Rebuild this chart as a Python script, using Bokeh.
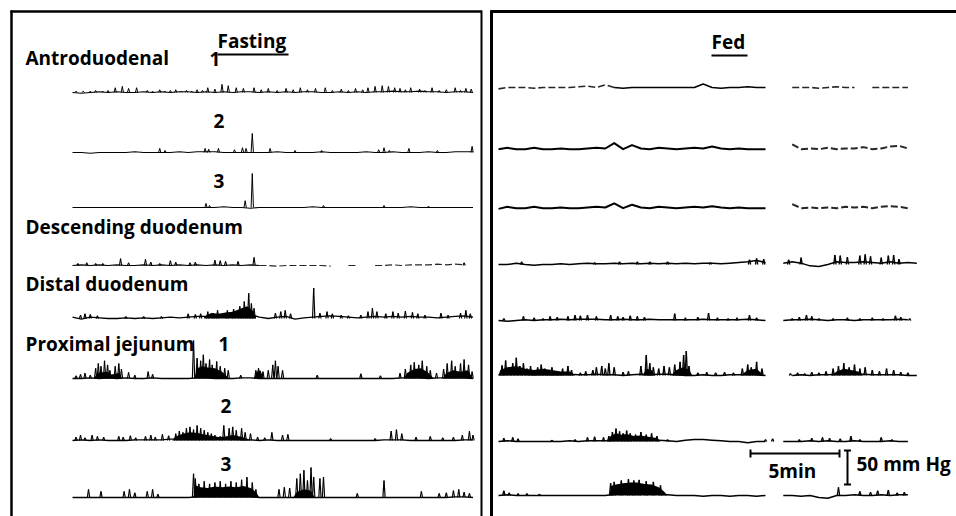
from bokeh.plotting import figure
from bokeh.models import Range1d, ColumnDataSource
from bokeh.transform import dodge
from bokeh.core.properties import value
from bokeh.embed import file_html
from bokeh.resources import INLINE

nan = float("nan")

# ---------------- data (time in min, pressure in mmHg above each trace's baseline) -------------
T_FAST = [0.0, 0.5, 1.0, 1.5, 2.0, 2.5, 3.0, 3.5, 4.0, 4.5, 5.0, 5.5, 6.0, 6.5, 7.0, 7.5,
          8.0, 8.5, 9.0, 9.5, 10.0, 10.5, 11.0, 11.5, 12.0, 12.5, 13.0, 13.5, 14.0, 14.5,
          15.0, 15.5, 16.0, 16.5, 17.0, 17.5, 18.0, 18.5, 19.0, 19.5, 20.0, 20.5, 21.0,
          21.5, 22.0, 22.5]
T_FED = T_FAST + [23.0, 23.5]

# ---- Fasting ----
FAST_A1 = [0, -1, 0, 1, 0, 1, 0, 0, 1, 0, 1, 0, 1, 1, 0, 1, 0, 1, 0, 1, 1, 0, 1, 0, 1, 0, 1, 1, 0, 0,
           1, 0, 1, 0, 1, 1, 2, 1, 1, 2, 1, 1, 0, 1, 1, 0]
FAST_A1_ST = [0.2, 0.6, 1.0, 1.3, 1.7, 2.0, 2.4, 2.8, 3.15, 3.6, 4.2, 4.5, 4.9, 5.2, 5.5, 5.8, 6.1,
              6.4, 6.7, 7.0, 7.3, 7.6, 8.0, 8.4, 8.75, 9.2, 9.6, 10.2, 10.6, 11.0, 11.5, 12.0, 12.4,
              12.8, 13.2, 13.65, 14.2, 14.6, 15.1, 15.5, 15.9, 16.3, 16.6, 17.0, 17.4, 17.75, 18.1,
              18.4, 18.7, 19.0, 19.5, 19.8, 20.2, 20.6, 21.0, 21.5, 21.8, 22.1, 22.4]
FAST_A1_SP = [2, 2, 2, 3, 2, 3, 7, 9, 6, 7, 3, 2, 4, 2, 3, 4, 2, 3, 2, 4, 3, 7, 5, 12, 10, 7, 6, 7,
              4, 6, 3, 6, 4, 7, 4, 6, 7, 3, 5, 3, 6, 4, 7, 9, 10, 9, 7, 6, 4, 7, 5, 3, 7, 3, 4, 7,
              3, 6, 5]

FAST_A2 = [0, 0, -1, 0, 0, 0, 0, 1, 0, 0, 0, 0, 1, 0, 1, 1, 1, 0, 0, 0, 0, 0, 0, 1, 0, 0, 0, 0, 1, 0,
           0, 0, 0, 1, 0, 0, 1, 0, 0, 0, 1, 0, 0, 1, 1, 1]
FAST_A2_ST = [4.9, 5.2, 7.45, 7.65, 8.2, 9.1, 9.55, 9.75, 10.1, 11.1, 12.5, 14.0, 17.2, 17.5, 17.8,
              18.9, 20.5, 22.45]
FAST_A2_SP = [6, 3, 6, 5, 6, 4, 7, 6, 28, 6, 3, 3, 4, 7, 3, 6, 3, 9]

FAST_A3 = [0, 0, 0, 0, 0, 0, 0, 0, 0, 0, 0, 0, 0, 0, 0, 0, 0, 1, 0, 0, -1, 0, 0, 0, 0, 0, 0, 1, 0, 0,
           0, 0, 0, 0, 0, 0, 0, 0, 1, 0, 0, 0, 0, 0, 0, 0]
FAST_A3_ST = [7.5, 7.7, 9.7, 10.1, 14.1, 17.5, 20.0]
FAST_A3_SP = [6, 3, 10, 50, 3, 3, 2]

FAST_DD = [0, 1, 0, 1, 0, 1, 0, 0, 1, 0, 1, 0, 1, 0, 1, 0, 1, 0, 1, 0, 1, 0] + [nan] * 24
FAST_DD_FADED = [nan] * 21 + [0, 0, -1, 0, 0, 0, 0, 0, -1, nan, 0, 0, nan, 0, 0, 1, 0, 1, 1, 1,
                              2, 1, 2, 1] + [nan]
FAST_DD_ST = [0.3, 0.8, 1.3, 1.7, 2.7, 3.15, 4.1, 4.4, 4.9, 5.5, 5.8, 6.6, 6.9, 8.0, 8.3, 8.6, 9.3,
              10.2, 22.0]
FAST_DD_SP = [3, 4, 3, 3, 10, 4, 9, 5, 3, 7, 5, 4, 5, 8, 7, 6, 6, 12, 4]

FAST_DI = [2, -1, 2, 1, 0, 0, 1, 0, 1, 0, 1, 2, 1, 2, 3, 3, 4, 5, 6, 7, 6, 2, 0, 2, 3, -1, 1, 2, 3, 4,
           3, 2, 1, 2, 3, 2, 3, 2, 3, 2, 2, 1, 2, 3, 4, 2]
FAST_DI_ST = [0.45, 0.7, 1.0, 1.4, 3.0, 4.0, 5.0, 6.5, 6.9, 7.2, 7.6, 7.9, 8.15, 8.7, 9.05, 9.4,
              9.65, 9.9, 10.05, 10.2, 11.4, 11.7, 11.95, 12.25, 13.55, 13.9, 14.3, 14.6, 15.1, 15.5,
              16.2, 16.6, 16.85, 17.1, 17.6, 18.0, 18.3, 18.7, 19.1, 19.4, 19.8, 20.7, 21.1, 21.8,
              22.1, 22.35]
FAST_DI_SP = [5, 7, 6, 4, 3, 3, 3, 7, 6, 7, 10, 8, 12, 12, 14, 18, 25, 37, 22, 15, 8, 10, 12, 7, 45,
              8, 10, 7, 5, 4, 5, 10, 15, 10, 7, 10, 8, 11, 9, 7, 5, 8, 5, 8, 12, 7]
FAST_DI_BT = [7.4, 7.8, 8.2, 8.6, 9.0, 9.4, 9.8, 10.1, 10.3]
FAST_DI_BP = [3, 8, 7, 9, 10, 14, 18, 12, 3]

FAST_PJ1 = [0, 0, 1, 0, 1, 0, 1, 0, 0, 1, 0, 0, 0, 0, 1, 1, 0, 0, 0, 1, 1, 0, 0, 0, 0, 0, 0, 0, 0, 0,
            0, 0, 0, 0, 0, 0, 0, 1, 1, 1, 0, 1, 1, 1, 1, 0]
FAST_PJ1_ST = [0.2, 0.45, 0.7, 1.0, 1.3, 1.45, 1.6, 1.8, 1.97, 2.1, 2.4, 2.6, 2.75, 3.15, 3.5, 4.25,
               4.5, 6.8, 7.0, 7.2, 7.35, 7.5, 7.7, 7.85, 8.1, 8.3, 8.55, 8.75, 9.45, 10.3, 10.45,
               10.7, 11.0, 11.25, 11.4, 11.55, 11.8, 13.75, 16.2, 17.3, 18.4, 18.7, 19.0, 19.2,
               19.45, 19.65, 19.9, 20.1, 20.45, 20.85, 21.05, 21.3, 21.5, 21.8, 22.0, 22.25, 22.45]
FAST_PJ1_SP = [4, 6, 8, 5, 15, 22, 18, 26, 20, 12, 18, 22, 14, 9, 5, 10, 6, 56, 30, 26, 35, 22, 28,
               20, 25, 18, 15, 12, 5, 12, 15, 10, 12, 20, 26, 18, 12, 5, 7, 4, 8, 14, 20, 24, 20,
               26, 18, 12, 8, 14, 22, 26, 18, 22, 28, 20, 10]
FAST_PJ1_BT = [1.2, 1.4, 1.9, 2.2, 2.6, 2.8, 6.85, 7.0, 7.3, 7.6, 8.0, 8.4, 8.8, 10.2, 10.35, 10.55,
               10.75, 18.6, 18.8, 19.2, 19.6, 20.0, 20.3, 20.8, 21.0, 21.4, 21.8, 22.2, 22.5]
FAST_PJ1_BP = [0, 8, 10, 6, 8, 0, 0, 15, 18, 16, 15, 10, 0, 0, 10, 12, 0, 0, 8, 14, 15, 8, 0, 0, 8,
               12, 10, 12, 0]

FAST_PJ2 = [0, 1, 0, 1, 0, 0, 0, 1, 1, 1, 1, 2, 2, 3, 3, 3, 3, 2, 2, 1, 1, 0, 1, 0, 0, 0, 0, 0, 0, 0,
            0, 0, 0, 0, 0, 1, 1, 1, 0, 0, 0, 0, 0, 0, 1, 1]
FAST_PJ2_ST = [0.2, 0.45, 0.7, 1.1, 1.4, 1.75, 2.6, 2.85, 3.25, 3.55, 4.1, 4.4, 4.65, 5.05, 5.4, 5.8,
               6.0, 6.2, 6.4, 6.6, 6.8, 7.0, 7.2, 7.4, 7.6, 7.8, 8.0, 8.3, 8.5, 8.8, 9.0, 9.2, 9.5,
               9.7, 10.0, 10.4, 10.8, 11.2, 11.8, 12.1, 14.5, 17.0, 17.9, 18.2, 18.5, 19.3, 20.1,
               20.8, 21.4, 21.9, 22.3, 22.5]
FAST_PJ2_SP = [5, 8, 4, 8, 6, 5, 6, 5, 7, 4, 6, 8, 5, 9, 7, 10, 14, 12, 18, 20, 16, 22, 18, 15, 12,
               10, 8, 6, 22, 18, 20, 15, 18, 12, 10, 5, 4, 12, 8, 9, 3, 3, 14, 16, 10, 5, 6, 4, 5,
               8, 14, 8]
FAST_PJ2_BT = [5.6, 5.8, 6.2, 6.6, 7.0, 7.4, 7.8, 8.2, 8.6, 9.0, 9.4, 9.8, 10.0]
FAST_PJ2_BP = [0, 6, 10, 12, 11, 9, 7, 5, 6, 8, 6, 3, 0]

FAST_PJ3 = [0, 0, 0, 0, 0, 0, 0, 0, 0, 0, 0, 0, 0, 0, 1, 1, 1, 1, 1, 1, 1, 0, 0, 0, 0, 0, 0, 0, 0, 0,
            0, 0, 0, 0, 0, 0, 0, 0, 0, 0, 0, 0, 0, 1, 1, 0]
FAST_PJ3_ST = [0.9, 1.6, 2.9, 3.2, 3.5, 4.2, 4.5, 4.8, 6.8, 6.9, 7.1, 7.4, 7.7, 8.0, 8.3, 8.6, 8.9,
               9.2, 9.5, 9.8, 10.1, 10.3, 11.6, 11.9, 12.2, 12.6, 12.8, 13.0, 13.2, 13.4, 13.55,
               13.9, 14.1, 16.0, 17.5, 19.6, 20.6, 21.0, 21.4, 21.7, 22.0, 22.3]
FAST_PJ3_SP = [12, 9, 9, 12, 7, 9, 12, 5, 35, 28, 20, 24, 20, 22, 24, 20, 24, 22, 26, 30, 22, 12, 12,
               15, 14, 28, 35, 40, 25, 44, 30, 28, 30, 6, 25, 9, 6, 7, 10, 12, 8, 6]
FAST_PJ3_BT = [6.8, 6.9, 7.2, 7.6, 8.0, 8.4, 8.8, 9.2, 9.6, 10.0, 10.3, 10.5, 12.4, 12.6, 13.0, 13.4,
               13.6]
FAST_PJ3_BP = [0, 18, 15, 14, 16, 15, 16, 15, 17, 14, 8, 0, 0, 8, 12, 10, 0]

# ---- Fed ----
FED_A1 = [nan] * 13 + [0, -1, 0, 0, 0, 0, 0, 0, 0, 0, 5, 0, -1, 0, 0, 1, 0, 0] + [nan] * 17
FED_A1_FADED = [-2, 0, 0, 0, -1, 0, 0, 0, 0, 1, 2, 0, 4, 0] + [nan] * 19 + \
               [0, 0, 0, -1, 0, 1, 0, 0, nan, 0, 0, 0, 0, 0] + [nan]

FED_A2 = [-1, 1, -1, -1, 1, -1, -1, 0, -1, -1, 0, 1, 0, 8, -1, 5, 0, -1, 1, 0, -1, 0, 1, 0, 3, 0, -1,
          0, -1, -1, -1] + [nan] * 17
FED_A2_FADED = [nan] * 33 + [6, -1, 0, -1, 1, -1, 0, 0, 2, -1, 0, 3, 4, 0] + [nan]

FED_A3 = [-2, 1, -1, -1, 1, -1, -1, 0, -1, -1, 0, 1, 0, 6, -1, 4, 0, -1, 1, 0, -1, 0, 1, 0, 2, 0, -1,
          0, -1, -1, -1] + [nan] * 17
FED_A3_FADED = [nan] * 33 + [5, -1, 0, -1, 0, -1, 1, 0, 1, -1, 1, 2, 1, -1] + [nan]

FED_DD = [0, 0, 2, 0, -1, 0, 0, 1, 0, 1, 2, 1, 1, 2, 1, 2, 1, 2, 1, 2, 1, 2, 1, 2, 2, 1, 2, 3, 4, 6,
          3, nan, 2, 4, 2, -2, -3, 0, 4, 3, 3, 4, 3, 2, 4, 2, 3, 2]
FED_DD_ST = [1.3, 5.4, 6.8, 7.8, 8.5, 9.5, 11.9, 14.1, 14.5, 14.9, 16.3, 17.0, 18.9, 19.2, 19.6,
             20.3, 20.6, 20.9, 21.5, 21.9, 22.2, 22.5]
FED_DD_SP = [4, 3, 4, 4, 4, 4, 3, 7, 9, 8, 7, 10, 14, 13, 11, 13, 15, 12, 10, 13, 14, 8]

FED_DI = [0, -1, 0, 1, 0, 1, 1, 2, 1, 2, 2, 2, 1, 1, 2, 1, 1, 2, 1, 1, 1, 1, 1, 2, 1, 1, 1, 1, 2, 1,
          0, nan, 0, 1, 1, 2, 1, 0, 1, 1, 0, 1, 1, 1, 1, 2, 1, nan]
FED_DI_ST = [0.3, 1.4, 2.0, 2.5, 2.9, 3.3, 3.9, 4.3, 4.6, 5.0, 5.5, 6.3, 6.7, 7.0, 7.4, 7.8, 8.2, 9.9,
             10.5, 11.2, 11.8, 12.3, 12.9, 13.4, 14.1, 14.5, 16.5, 16.9, 17.3, 17.6, 18.0, 18.8,
             19.6, 20.3, 21.0, 21.6, 22.3, 22.6, 23.1]
FED_DI_SP = [3, 6, 4, 3, 6, 5, 6, 8, 7, 8, 6, 8, 6, 5, 7, 6, 5, 10, 4, 5, 11, 4, 3, 4, 8, 4, 3, 5, 8,
             6, 3, 3, 4, 3, 4, 3, 7, 5, 3]

FED_PJ1 = [1, 2, 2, 2, 1, 2, 1, 1, 2, 1, 1, 2, 1, 1, 0, 1, 2, 1, 2, 2, 1, 0, 0, 1, 0, 0, 1, 1, 2, 1,
           0, nan, nan, 0, 1, 0, 1, 1, 2, 2, 2, 2, 1, 1, 1, 1, 0, 0]
FED_PJ1_ST = [0.2, 0.4, 0.6, 0.8, 1.0, 1.2, 1.4, 1.6, 1.8, 2.0, 2.2, 2.4, 2.6, 2.8, 3.0, 3.3, 3.6,
              3.9, 4.1, 4.6, 4.9, 5.3, 5.5, 5.8, 6.0, 6.2, 6.5, 7.0, 7.3, 8.0, 8.3, 8.5, 8.7, 9.0,
              9.3, 9.6, 9.9, 10.2, 10.4, 10.55, 10.7, 11.2, 11.7, 12.2, 12.7, 13.2, 13.7, 14.0,
              14.2, 14.5, 14.8, 16.4, 16.8, 17.2, 17.6, 18.0, 18.4, 18.8, 19.1, 19.4, 19.7, 20.0,
              20.3, 20.6, 21.0, 21.4, 21.8, 22.2, 22.6, 23.0]
FED_PJ1_SP = [15, 22, 12, 18, 26, 14, 18, 10, 14, 8, 12, 16, 10, 8, 12, 6, 10, 14, 8, 4, 6, 8, 12,
              14, 10, 18, 12, 5, 6, 14, 30, 18, 12, 10, 14, 12, 16, 20, 30, 36, 14, 4, 5, 4, 5, 4,
              10, 16, 12, 20, 10, 3, 4, 3, 5, 4, 6, 10, 14, 18, 12, 16, 10, 12, 8, 6, 10, 8, 5, 4]
FED_PJ1_BT = [0.0, 0.1, 0.5, 1.0, 1.5, 2.0, 2.5, 3.0, 3.5, 4.0, 4.3, 8.1, 8.3, 8.6, 8.8, 9.7, 10.0,
              10.4, 10.7, 10.9, 13.6, 14.0, 14.5, 14.9, 18.7, 19.0, 19.4, 19.8, 20.2, 20.5]
FED_PJ1_BP = [0, 8, 12, 14, 10, 8, 10, 8, 6, 6, 0, 0, 10, 8, 0, 0, 8, 12, 8, 0, 0, 8, 10, 0, 0, 6,
              10, 8, 6, 0]

FED_PJ2 = [0, 1, 0, 0, 0, 0, 0, 0, 1, 0, 1, 1, 1, 2, 2, 3, 3, 2, 2, 1, 0, 2, 3, 3, 2, 1, 0, 0, -2, 0,
           0, nan, 0, 0, 0, 1, 0, 1, 0, 0, 1, 0, 0, 0, 1, 0, 0, nan]
FED_PJ2_ST = [0.3, 0.8, 1.1, 3.0, 4.3, 5.0, 5.4, 5.9, 6.2, 6.4, 6.6, 6.8, 7.0, 7.2, 7.4, 7.7, 8.0,
              8.3, 8.6, 8.9, 9.5, 15.0, 15.4, 16.9, 17.6, 18.2, 18.6, 19.2, 19.8, 20.3, 21.5, 22.1]
FED_PJ2_SP = [5, 6, 4, 2, 3, 6, 7, 6, 8, 14, 19, 15, 12, 16, 12, 10, 14, 10, 12, 8, 3, 3, 4, 3, 5, 6,
              5, 4, 8, 3, 6, 3]
FED_PJ2_BT = [6.1, 6.3, 6.6, 6.9, 7.2, 7.6, 8.0, 8.4, 8.9, 9.1]
FED_PJ2_BP = [0, 8, 12, 10, 11, 8, 9, 7, 5, 0]

FED_PJ3 = [0, 1, 0, 0, 0, 0, 0, 0, 0, 0, 0, 0, 0, 2, 3, 3, 3, 3, 2, 1, 0, 0, 0, -1, 0, 0, -1, 0, 0,
           -1, 0, nan, 0, 0, -1, 0, -3, -4, 0, 0, 1, 0, 0, 1, 0, 1, 1, nan]
FED_PJ3_ST = [0.3, 0.6, 1.1, 1.6, 2.3, 6.3, 6.5, 6.9, 7.3, 7.6, 7.9, 8.3, 8.7, 9.1, 19.1, 20.3, 20.9,
              21.3, 21.9, 22.4, 22.8]
FED_PJ3_SP = [7, 4, 3, 3, 2, 18, 20, 22, 24, 22, 23, 21, 20, 15, 12, 6, 5, 7, 8, 4, 5]
FED_PJ3_BT = [6.25, 6.3, 6.6, 7.0, 7.4, 7.8, 8.2, 8.6, 9.0, 9.3, 9.5]
FED_PJ3_BP = [0, 14, 16, 18, 19, 19, 17, 16, 12, 6, 0]

# text
PANEL_TITLES = ["Fasting", "Fed"]
ROW_LABELS = ["Antroduodenal", "Descending duodenum", "Distal duodenum", "Proximal jejunum"]
SUB_LABELS = ["1", "2", "3", "1", "2", "3"]
SCALE_MIN = 5      # min
SCALE_MMHG = 50    # mmHg
SCALE_LABELS = ["5min", "50 mm Hg"]

# ---------------- layout (pixel geometry of the page) ----------------
W, H = 956, 516
PX_MIN = 17.8      # px per minute
PX_MMHG = 0.68     # px per mmHg
INK = "black"
FONT = value("Open Sans")
FS = "19px"


def px_x(px):
    return px / PX_MIN


def px_y(py):
    return -py / PX_MMHG


p = figure(width=W, height=H, x_range=Range1d(0, W / PX_MIN), y_range=Range1d(-H / PX_MMHG, 0),
           output_backend="svg", toolbar_location=None, min_border=0,
           x_axis_type=None, y_axis_type=None)
p.grid.visible = False
p.outline_line_color = None
p.background_fill_color = "white"
p.border_fill_color = "white"

SPK_W = 0.065  # half width of a spike, min


def trace(x0, y0, t, base, faded=None, st=None, sp=None, bt=None, bp=None, lw=1.3):
    ox, oy = px_x(x0), px_y(y0)
    if bt:
        s = ColumnDataSource(dict(t=bt, p=bp))
        p.varea(x=dodge("t", ox), y1=oy, y2=dodge("p", oy), source=s, fill_color=INK)
    s = ColumnDataSource(dict(t=t, v=base))
    p.line(x=dodge("t", ox), y=dodge("v", oy), source=s, line_color=INK, line_width=lw,
           line_join="round")
    if faded is not None:
        s = ColumnDataSource(dict(t=t, v=faded))
        p.line(x=dodge("t", ox), y=dodge("v", oy), source=s, line_color=INK, line_width=lw,
               line_dash="7 3", line_alpha=0.85)
    if st:
        s = ColumnDataSource(dict(t=st, p=sp))
        p.segment(x0=dodge("t", ox - SPK_W), y0=oy, x1=dodge("t", ox), y1=dodge("p", oy),
                  source=s, line_color=INK, line_width=lw * 0.9)
        p.segment(x0=dodge("t", ox), y0=dodge("p", oy), x1=dodge("t", ox + SPK_W), y1=oy,
                  source=s, line_color=INK, line_width=lw * 0.9)


XL, XR = 72, 498   # trace start, px
# Fasting
trace(XL, 92, T_FAST, FAST_A1, st=FAST_A1_ST, sp=FAST_A1_SP, lw=1.1)
trace(XL, 152, T_FAST, FAST_A2, st=FAST_A2_ST, sp=FAST_A2_SP, lw=1.1)
trace(XL, 207, T_FAST, FAST_A3, st=FAST_A3_ST, sp=FAST_A3_SP, lw=1.1)
trace(XL, 265, T_FAST, FAST_DD, faded=FAST_DD_FADED, st=FAST_DD_ST, sp=FAST_DD_SP, lw=1.2)
trace(XL, 318, T_FAST, FAST_DI, st=FAST_DI_ST, sp=FAST_DI_SP, bt=FAST_DI_BT, bp=FAST_DI_BP, lw=1.3)
trace(XL, 378, T_FAST, FAST_PJ1, st=FAST_PJ1_ST, sp=FAST_PJ1_SP, bt=FAST_PJ1_BT, bp=FAST_PJ1_BP)
trace(XL, 440, T_FAST, FAST_PJ2, st=FAST_PJ2_ST, sp=FAST_PJ2_SP, bt=FAST_PJ2_BT, bp=FAST_PJ2_BP)
trace(XL, 497, T_FAST, FAST_PJ3, st=FAST_PJ3_ST, sp=FAST_PJ3_SP, bt=FAST_PJ3_BT, bp=FAST_PJ3_BP)
# Fed
trace(XR, 87, T_FED, FED_A1, faded=FED_A1_FADED, lw=1.6)
trace(XR, 148, T_FED, FED_A2, faded=FED_A2_FADED, lw=2.0)
trace(XR, 207, T_FED, FED_A3, faded=FED_A3_FADED, lw=2.0)
trace(XR, 264, T_FED, FED_DD, st=FED_DD_ST, sp=FED_DD_SP, lw=1.5)
trace(XR, 320, T_FED, FED_DI, st=FED_DI_ST, sp=FED_DI_SP, lw=1.5)
trace(XR, 375, T_FED, FED_PJ1, st=FED_PJ1_ST, sp=FED_PJ1_SP, bt=FED_PJ1_BT, bp=FED_PJ1_BP, lw=1.5)
trace(XR, 441, T_FED, FED_PJ2, st=FED_PJ2_ST, sp=FED_PJ2_SP, bt=FED_PJ2_BT, bp=FED_PJ2_BP, lw=1.5)
trace(XR, 495, T_FED, FED_PJ3, st=FED_PJ3_ST, sp=FED_PJ3_SP, bt=FED_PJ3_BT, bp=FED_PJ3_BP, lw=1.5)


# frame lines
def seg(x0, y0, x1, y1, w):
    p.segment(x0=[px_x(x0)], y0=[px_y(y0)], x1=[px_x(x1)], y1=[px_y(y1)], line_color=INK,
              line_width=w)


seg(11, 10, 11, 516, 2.5)
seg(10, 11, 481, 11, 2.5)
seg(481, 10, 481, 516, 2.0)
seg(491, 10, 491, 516, 3.0)
seg(490, 11, 956, 11, 3.0)

# titles + underline
p.text(x=[px_x(217), px_x(711)], y=[px_y(40), px_y(41)], text=PANEL_TITLES, text_font=FONT,
       text_font_size=FS, text_font_style="bold", text_baseline="middle", text_align="left",
       text_color=INK)
seg(217, 54, 288, 54, 2.0)
seg(711, 55, 747, 55, 2.0)

p.text(x=[px_x(25)] * 4, y=[px_y(57), px_y(226), px_y(283), px_y(343)], text=ROW_LABELS,
       text_font=FONT, text_font_size=FS, text_font_style="bold", text_baseline="middle",
       text_align="left", text_color=INK)
p.text(x=[px_x(209), px_x(213), px_x(213), px_x(218), px_x(220), px_x(220)],
       y=[px_y(58), px_y(120), px_y(180), px_y(343), px_y(405), px_y(463)], text=SUB_LABELS,
       text_font=FONT, text_font_size=FS, text_font_style="bold", text_baseline="middle",
       text_align="left", text_color=INK)

# scale bars
hx0, hy = px_x(750), px_y(453)
p.segment(x0=[hx0], y0=[hy], x1=[hx0 + SCALE_MIN], y1=[hy], line_color=INK, line_width=2)
cap = 4 / PX_MMHG
p.segment(x0=[hx0, hx0 + SCALE_MIN], y0=[hy - cap, hy - cap], x1=[hx0, hx0 + SCALE_MIN],
          y1=[hy + cap, hy + cap], line_color=INK, line_width=2)
vx, vy0 = px_x(847), px_y(484)
p.segment(x0=[vx], y0=[vy0], x1=[vx], y1=[vy0 + SCALE_MMHG], line_color=INK, line_width=2)
capx = 3.5 / PX_MIN
p.segment(x0=[vx - capx, vx - capx], y0=[vy0, vy0 + SCALE_MMHG], x1=[vx + capx, vx + capx],
          y1=[vy0, vy0 + SCALE_MMHG], line_color=INK, line_width=2)
p.text(x=[px_x(768), px_x(856)], y=[px_y(470), px_y(463)], text=SCALE_LABELS, text_font=FONT,
       text_font_size=FS, text_font_style="bold", text_baseline="middle", text_align="left",
       text_color=INK)

open("out.html", "w").write(file_html(p, INLINE))
